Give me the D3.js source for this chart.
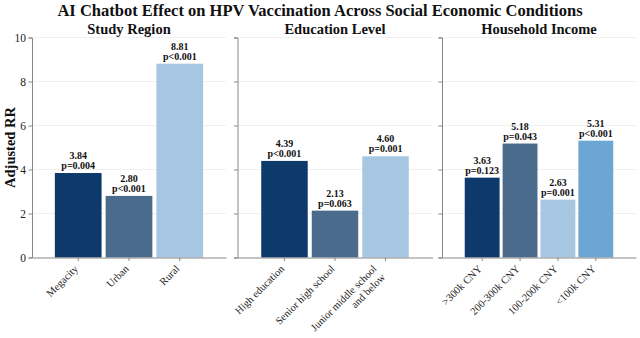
<!DOCTYPE html>
<html>
<head>
<meta charset="utf-8">
<script src="https://cdn.jsdelivr.net/npm/d3@7"></script>
<style>
  body { margin: 0; background: #fff; }
  text { font-family: "Liberation Serif", "DejaVu Serif", serif; }
</style>
</head>
<body>
<div id="chart"></div>
<script>
var svgWidth = 640;
var svgHeight = 338;

// data
var regionCats = ["Megacity", "Urban", "Rural"];
var regionRR = [3.84, 2.80, 8.81];
var regionP = ["p=0.004", "p<0.001", "p<0.001"];

var eduCats = ["High education", "Senior high school", "Junior middle school\nand below"];
var eduRR = [4.39, 2.13, 4.60];
var eduP = ["p<0.001", "p=0.063", "p=0.001"];

var incomeCats = [">300k CNY", "200-300k CNY", "100-200k CNY", "<100k CNY"];
var incomeRR = [3.63, 5.18, 2.63, 5.31];
var incomeP = ["p=0.123", "p=0.043", "p=0.001", "p<0.001"];

var yTicks = [0, 2, 4, 6, 8, 10];
var barColors = ["#0d3a6b", "#4b6b8c", "#a7c6e1", "#6ba7d2"];

var panels = [
  { title: "Study Region", cats: regionCats, rr: regionRR, p: regionP, x0: 32, x1: 226, outer: 0.45 },
  { title: "Education Level", cats: eduCats, rr: eduRR, p: eduP, x0: 237.5, x1: 432.5, outer: 0.47 },
  { title: "Household Income", cats: incomeCats, rr: incomeRR, p: incomeP, x0: 442, x1: 636, outer: 0.6 }
];

var plotTop = 37.5;
var plotBottom = 257.5;

var svg = d3.select("#chart")
  .append("svg")
  .attr("width", svgWidth)
  .attr("height", svgHeight);

var yScale = d3.scaleLinear()
  .domain([0, 10])
  .range([plotBottom, plotTop]);

// main title
svg.append("text")
  .attr("x", 320)
  .attr("y", 16)
  .attr("text-anchor", "middle")
  .attr("font-size", "16.5px")
  .attr("font-weight", "bold")
  .attr("fill", "#111")
  .text("AI Chatbot Effect on HPV Vaccination Across Social Economic Conditions");

// y label
svg.append("text")
  .attr("transform", `translate(15, ${(plotTop + plotBottom) / 2}) rotate(-90)`)
  .attr("text-anchor", "middle")
  .attr("font-size", "14.5px")
  .attr("font-weight", "bold")
  .attr("fill", "#111")
  .text("Adjusted RR");

panels.forEach(function (panel, pi) {
  var g = svg.append("g");

  var xScale = d3.scaleBand()
    .domain(panel.cats)
    .range([panel.x0, panel.x1])
    .paddingInner(0.08)
    .paddingOuter(panel.outer);

  // gridlines
  g.selectAll(".grid")
    .data(yTicks.filter(d => d > 0))
    .enter()
    .append("line")
    .attr("x1", panel.x0)
    .attr("x2", panel.x1)
    .attr("y1", d => yScale(d))
    .attr("y2", d => yScale(d))
    .attr("stroke", "#ececec")
    .attr("stroke-width", 0.8);

  // bars
  g.selectAll(".bar")
    .data(panel.rr)
    .enter()
    .append("rect")
    .attr("x", (d, i) => xScale(panel.cats[i]))
    .attr("y", d => yScale(d))
    .attr("width", xScale.bandwidth())
    .attr("height", d => yScale(0) - yScale(d))
    .attr("fill", (d, i) => barColors[i]);

  // value labels
  var labels = g.selectAll(".val")
    .data(panel.rr)
    .enter()
    .append("text")
    .attr("text-anchor", "middle")
    .attr("font-size", "10px")
    .attr("font-weight", "bold")
    .attr("fill", "#111");
  labels.append("tspan")
    .attr("x", (d, i) => xScale(panel.cats[i]) + xScale.bandwidth() / 2)
    .attr("y", d => yScale(d) - 14)
    .text(d => d.toFixed(2));
  labels.append("tspan")
    .attr("x", (d, i) => xScale(panel.cats[i]) + xScale.bandwidth() / 2)
    .attr("y", d => yScale(d) - 4)
    .text((d, i) => panel.p[i]);

  // y axis
  var leftAxis = d3.axisLeft(yScale)
    .tickValues(yTicks)
    .tickSize(3.5)
    .tickPadding(2.5)
    .tickFormat(pi === 0 ? d3.format("d") : "");
  var yAxis = g.append("g")
    .attr("transform", `translate(${panel.x0}, 0)`)
    .call(leftAxis);
  yAxis.select(".domain").attr("stroke", "#888");
  yAxis.selectAll(".tick line").attr("stroke", "#888");
  yAxis.selectAll(".tick text")
    .attr("font-size", "11.5px")
    .attr("fill", "#222")
    .style("font-family", "Liberation Serif, serif");

  // x axis
  var bottomAxis = d3.axisBottom(xScale)
    .tickSize(3.5)
    .tickSizeOuter(0)
    .tickFormat("");
  var xAxis = g.append("g")
    .attr("transform", `translate(0, ${plotBottom})`)
    .call(bottomAxis);
  xAxis.select(".domain").attr("stroke", "#888");
  xAxis.selectAll(".tick line").attr("stroke", "#888");

  // rotated tick labels
  var fs = 10.5;
  panel.cats.forEach(function (c) {
    var lines = c.split("\n");
    var boxH = lines.length * 1.15 * fs;
    var tx = xScale(c) + xScale.bandwidth() / 2 - 0.707 * boxH + 3;
    var t = g.append("text")
      .attr("transform", `translate(${tx}, ${plotBottom + 6}) rotate(-45)`)
      .attr("text-anchor", "end")
      .attr("font-size", fs + "px")
      .attr("fill", "#222");
    lines.forEach(function (ln, li) {
      t.append("tspan")
        .attr("x", 0)
        .attr("dy", li === 0 ? "0.8em" : "1.15em")
        .text(ln);
    });
  });

  // panel title
  g.append("text")
    .attr("x", (panel.x0 + panel.x1) / 2)
    .attr("y", 34)
    .attr("text-anchor", "middle")
    .attr("font-size", "14.5px")
    .attr("font-weight", "bold")
    .attr("fill", "#111")
    .text(panel.title);
});
</script>
</body>
</html>
